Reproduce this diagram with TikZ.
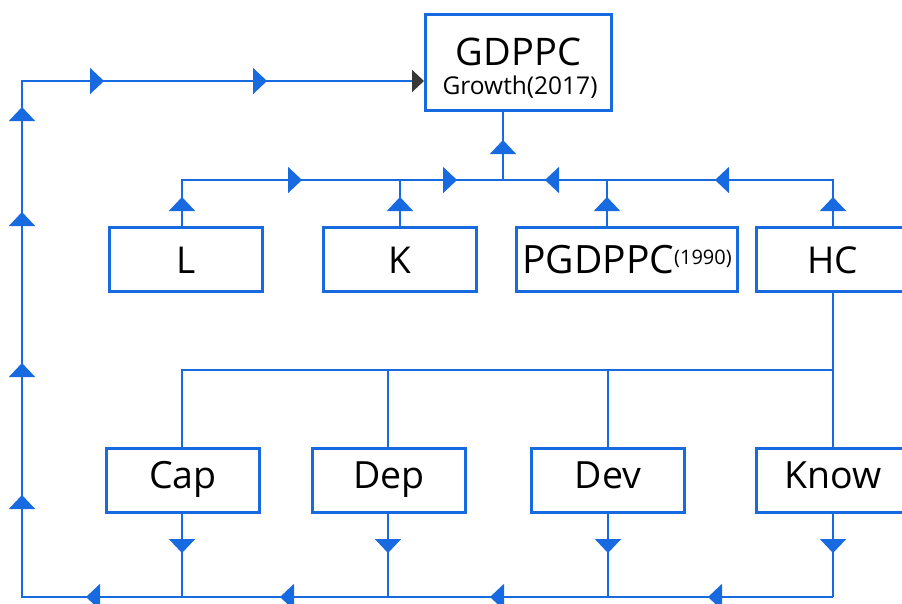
\documentclass[tikz,border=0pt]{standalone}
\usepackage{fontspec}
\setmainfont{Open Sans}
\usetikzlibrary{arrows.meta,decorations.markings}
\definecolor{myblue}{RGB}{24,106,224}
\definecolor{tipgray}{RGB}{55,55,55}
\tikzset{
  bluetri/.tip={Triangle[length=14pt,width=26pt,color=myblue]},
}
\begin{document}
\begin{tikzpicture}[x=1pt,y=-1pt,
  box/.style={draw=myblue,line width=3pt,fill=white,inner sep=0pt,
    minimum width=153pt,minimum height=64pt,text height=27pt,text depth=0pt,
    font=\fontsize{37}{40}\selectfont},
  lowbox/.style={box,text height=15pt,font=\fontsize{37.5}{40}\selectfont},
  conn/.style={draw=myblue,line width=2pt},
  arr/.style={postaction={decorate,decoration={markings,
    mark=at position #1 with {\arrow{bluetri}}}}},
]
\useasboundingbox (0,0) rectangle (902,603);
\fill[white] (0,0) rectangle (902,603);

% boxes
\node[draw=myblue,line width=3pt,fill=white,inner sep=0pt,
  minimum width=186pt,minimum height=96pt] (gdp) at (518.5,62.5) {};
\node[anchor=base,font=\fontsize{38}{40}\selectfont] (gt1) at (518.5,65) {GDPPC};
\node[anchor=base,font=\fontsize{24.5}{26}\selectfont] (gt2) at (520,94) {Growth(2017)};

\node[box] (L) at (186,259.5) {L};
\node[box] (K) at (400,259.5) {K};
\node[box,minimum width=221pt] (PG) at (627,259.5)
  {\fontsize{39}{40}\selectfont PGDPPC\raisebox{9pt}{\fontsize{20}{22}\selectfont(1990)}};
\node[box] (HC) at (833,259.5) {HC};

\node[lowbox] (cap) at (183,480.5) {Cap};
\node[lowbox] (dep) at (389,480.5) {Dep};
\node[lowbox] (dev) at (608,480.5) {Dev};
\node[lowbox] (know) at (833,480.5) {Know};

% junctions
\coordinate (jg) at (503,180);
\coordinate (jl) at (182,180);
\coordinate (jk) at (400,180);
\coordinate (jp) at (607,180);
\coordinate (jh) at (833,180);
\coordinate (c1) at (182,370);
\coordinate (c2) at (388,370);
\coordinate (c3) at (608,370);
\coordinate (c4) at (833,370);
\coordinate (d1) at (182,597);
\coordinate (d2) at (388,597);
\coordinate (d3) at (608,597);
\coordinate (d4) at (833,597);
\coordinate (bl) at (22,597);
\coordinate (tl) at (22,81);

% top tree
\draw[conn,arr=40pt] (jg) -- (gdp.south -| jg);
\draw[conn,arr=29pt,arr=166pt,arr=321pt] (L.north -| jl) -- (jl) -- (jg);
\draw[conn,arr=29pt] (K.north -| jk) -- (jk);
\draw[conn,arr=29pt] (PG.north -| jp) -- (jp);
\draw[conn,arr=29pt,arr=164pt,arr=334pt] (HC.north -| jh) -- (jh) -- (jg);

% HC branch
\draw[conn] (HC.south) -- (know.north);
\draw[conn] (cap.north -| c1) -- (c1) -- (c4);
\draw[conn] (dep.north -| c2) -- (c2);
\draw[conn] (dev.north -| c3) -- (c3);

% drops
\draw[conn,arr=39pt] (cap.south -| d1) -- (d1);
\draw[conn,arr=39pt] (dep.south -| d2) -- (d2);
\draw[conn,arr=39pt] (dev.south -| d3) -- (d3);
\draw[conn,arr=39pt] (know.south -| d4) -- (d4);

% feedback loop
\draw[conn,-{Triangle[length=12pt,width=22pt,color=tipgray]},
  arr=125pt,arr=343pt,arr=553pt,arr=747pt,
  arr=913pt,arr=1045pt,arr=1196pt,arr=1301pt,
  arr=1409pt,arr=1572pt]
  (d4) -- (bl) -- (tl) -- (gdp.west |- tl);
\end{tikzpicture}
\end{document}
